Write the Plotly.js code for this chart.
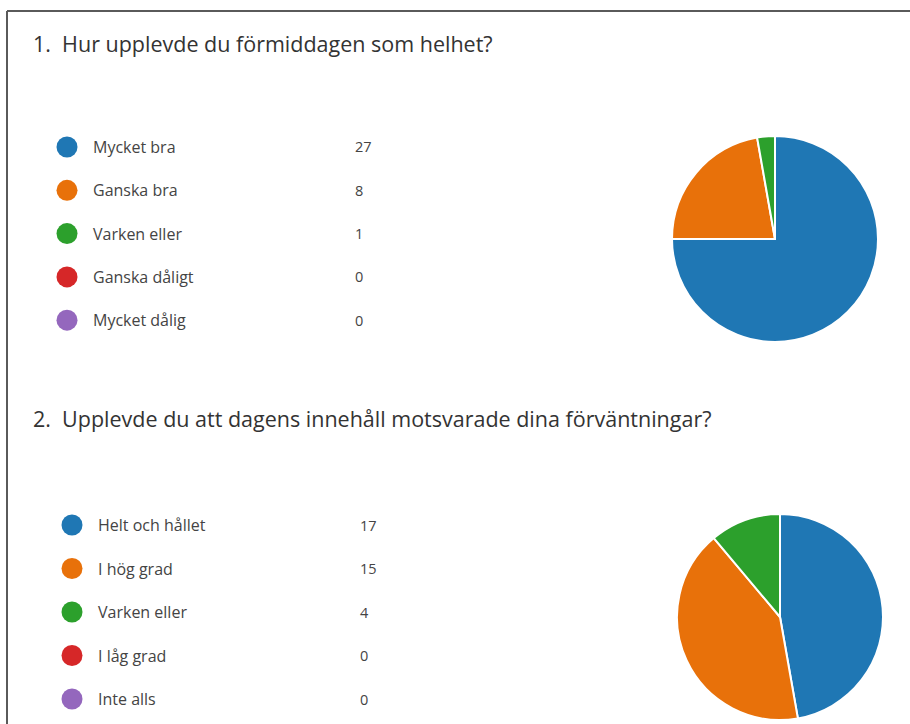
<!DOCTYPE html>
<html>
<head>
<meta charset="utf-8">
<script src="https://cdn.plot.ly/plotly-3.0.1.min.js"></script>
<style>
  html, body { margin: 0; padding: 0; background: #fff; }
  #chart { width: 910px; height: 724px; }
</style>
</head>
<body>
<div id="chart"></div>
<script>
// ---- data ----
const q1Title = "1.  Hur upplevde du förmiddagen som helhet?";
const q1Labels = ["Mycket bra", "Ganska bra", "Varken eller", "Ganska dåligt", "Mycket dålig"];
const q1Values = [27, 8, 1, 0, 0];

const q2Title = "2.  Upplevde du att dagens innehåll motsvarade dina förväntningar?";
const q2Labels = ["Helt och hållet", "I hög grad", "Varken eller", "I låg grad", "Inte alls"];
const q2Values = [17, 15, 4, 0, 0];

const sliceColors = ["#1f77b4", "#e8710a", "#2ca02c", "#d62728", "#9467bd"];

// ---- layout helpers ----
const W = 910, H = 724;
const px = v => v / W;
const py = v => 1 - v / H;

const FONT = "'Open Sans', 'Noto Sans', sans-serif";

function pieTrace(labels, values, cx, cy, r) {
  return {
    type: "pie",
    labels: labels,
    values: values,
    sort: false,
    direction: "clockwise",
    rotation: 0,
    textinfo: "none",
    hoverinfo: "label+value",
    marker: { colors: sliceColors, line: { color: "#ffffff", width: 2 } },
    domain: { x: [px(cx - r), px(cx + r)], y: [py(cy + r), py(cy - r)] },
    showlegend: false
  };
}

const data = [
  pieTrace(q1Labels, q1Values, 775, 239, 103),
  pieTrace(q2Labels, q2Values, 780, 617, 103)
];

const annotations = [];
const shapes = [];

function addTitle(text, x, y) {
  annotations.push({
    text: text, xref: "paper", yref: "paper", x: px(x), y: py(y),
    xanchor: "left", yanchor: "middle", showarrow: false,
    font: { family: FONT, size: 21.5, color: "#333333" }
  });
}

function addLegend(labels, values, dotX, labelX, valueX, y0, step) {
  labels.forEach((lab, i) => {
    const y = y0 + i * step;
    shapes.push({
      type: "circle", xref: "paper", yref: "paper",
      xsizemode: "pixel", ysizemode: "pixel",
      xanchor: px(dotX), yanchor: py(y),
      x0: -10.5, x1: 10.5, y0: -10.5, y1: 10.5,
      fillcolor: sliceColors[i], line: { width: 0 }
    });
    annotations.push({
      text: lab, xref: "paper", yref: "paper", x: px(labelX), y: py(y),
      xanchor: "left", yanchor: "middle", showarrow: false,
      font: { family: FONT, size: 16, color: "#444444" }
    });
    annotations.push({
      text: String(values[i]), xref: "paper", yref: "paper", x: px(valueX), y: py(y),
      xanchor: "left", yanchor: "middle", showarrow: false,
      font: { family: FONT, size: 14.5, color: "#444444" }
    });
  });
}

addTitle(q1Title, 31, 44);
addLegend(q1Labels, q1Values, 67, 91, 353, 147, 43.3);
addTitle(q2Title, 31, 418);
addLegend(q2Labels, q2Values, 72, 96, 358, 525, 43.5);

// frame lines (top and left)
shapes.push({ type: "line", xref: "paper", yref: "paper", x0: px(7), x1: 1, y0: py(11), y1: py(11),
  line: { color: "#5a5a5a", width: 2 } });
shapes.push({ type: "line", xref: "paper", yref: "paper", x0: px(7), x1: px(7), y0: py(11), y1: 0,
  line: { color: "#5a5a5a", width: 2 } });

const layout = {
  width: W, height: H,
  margin: { l: 0, r: 0, t: 0, b: 0 },
  paper_bgcolor: "#ffffff",
  showlegend: false,
  annotations: annotations,
  shapes: shapes
};

Plotly.newPlot("chart", data, layout, { displayModeBar: false, staticPlot: true });
</script>
</body>
</html>
